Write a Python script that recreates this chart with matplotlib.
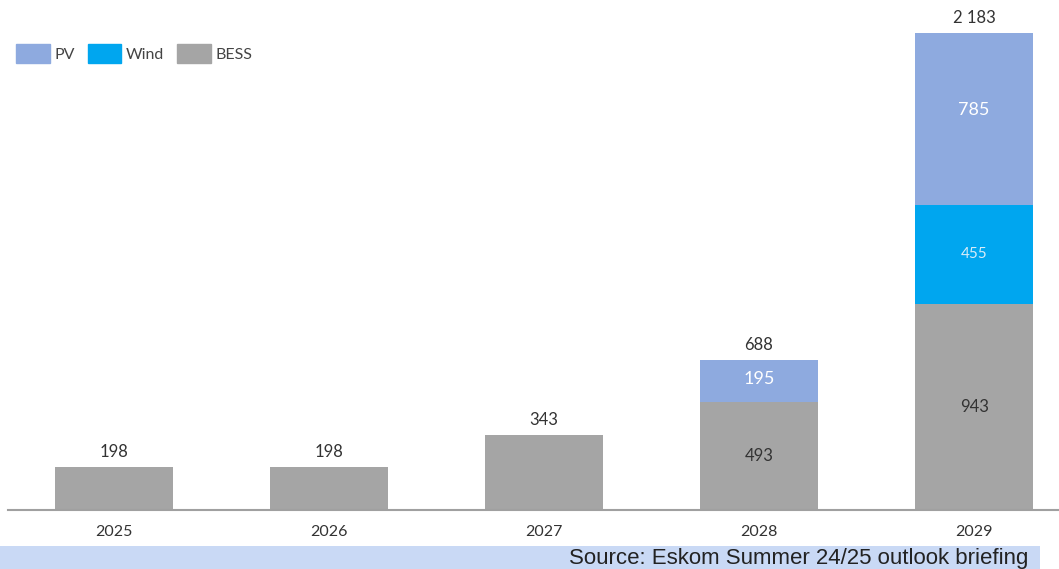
import matplotlib.pyplot as plt
import matplotlib.patches as patches
import numpy as np

years = ["2025", "2026", "2027", "2028", "2029"]
bess = [198, 198, 343, 493, 943]
wind = [0, 0, 0, 0, 455]
pv = [0, 0, 0, 195, 785]
totals = [198, 198, 343, 688, 2183]

c_pv = "#8eaadf"
c_wind = "#00a6ef"
c_bess = "#a5a5a5"

plt.rcParams['font.family'] = ['Lato', 'DejaVu Sans']

fig = plt.figure(figsize=(10.59, 5.69), dpi=100)
ax = fig.add_axes([8 / 1059, 59 / 569, 1051 / 1059, 510 / 569])

x = np.arange(len(years))
w = 0.55
bess_arr = np.array(bess)
wind_arr = np.array(wind)
pv_arr = np.array(pv)

ax.bar(x, bess_arr, w, color=c_bess, label="BESS")
ax.bar(x, wind_arr, w, bottom=bess_arr, color=c_wind, label="Wind")
ax.bar(x, pv_arr, w, bottom=bess_arr + wind_arr, color=c_pv, label="PV")

ax.set_ylim(0, 2334)
ax.set_xlim(-0.493, 4.395)

# segment labels inside the stacked bars
for i in range(len(years)):
    if pv[i] > 0 or wind[i] > 0:
        ax.text(x[i], bess[i] / 2, f"{bess[i]}", ha="center", va="center",
                fontsize=12, color="#333333")
    if wind[i] > 0:
        ax.text(x[i], bess[i] + wind[i] / 2, f"{wind[i]}", ha="center", va="center",
                fontsize=11, color="#d8ecf8")
    if pv[i] > 0:
        ax.text(x[i], bess[i] + wind[i] + pv[i] * 0.55, f"{pv[i]}", ha="center", va="center",
                fontsize=13, color="white")
    label = f"{totals[i]:,}".replace(",", " ")
    ax.text(x[i], totals[i] + 30, label, ha="center", va="bottom",
            fontsize=12, color="#333333")

for s in ["top", "right", "left"]:
    ax.spines[s].set_visible(False)
ax.spines["bottom"].set_color("#a0a0a0")
ax.spines["bottom"].set_linewidth(1.5)
ax.set_yticks([])
ax.set_xticks(x)
ax.set_xticklabels(years, fontsize=11.5, color="#333333")
ax.tick_params(axis="x", length=0, pad=11)

handles = [patches.Patch(color=c_pv, label="PV"),
           patches.Patch(color=c_wind, label="Wind"),
           patches.Patch(color=c_bess, label="BESS")]
ax.legend(handles=handles, loc="upper left", bbox_to_anchor=(-0.006, 0.942), ncol=3,
          frameon=False, fontsize=11.5, handlelength=2.1, handleheight=1.5,
          handletextpad=0.3, columnspacing=0.8, labelcolor="#444444")

# source band along the bottom edge
fig.patches.append(patches.Rectangle((0, 0), 1040 / 1059, 23 / 569, transform=fig.transFigure,
                                     facecolor="#c9d9f5", edgecolor="none", zorder=0))
fig.text(1028 / 1059, 5 / 569, "Source: Eskom Summer 24/25 outlook briefing",
         ha="right", va="baseline", fontsize=16, family="Liberation Sans", color="#222222")

fig.savefig("out.png", dpi=100)
